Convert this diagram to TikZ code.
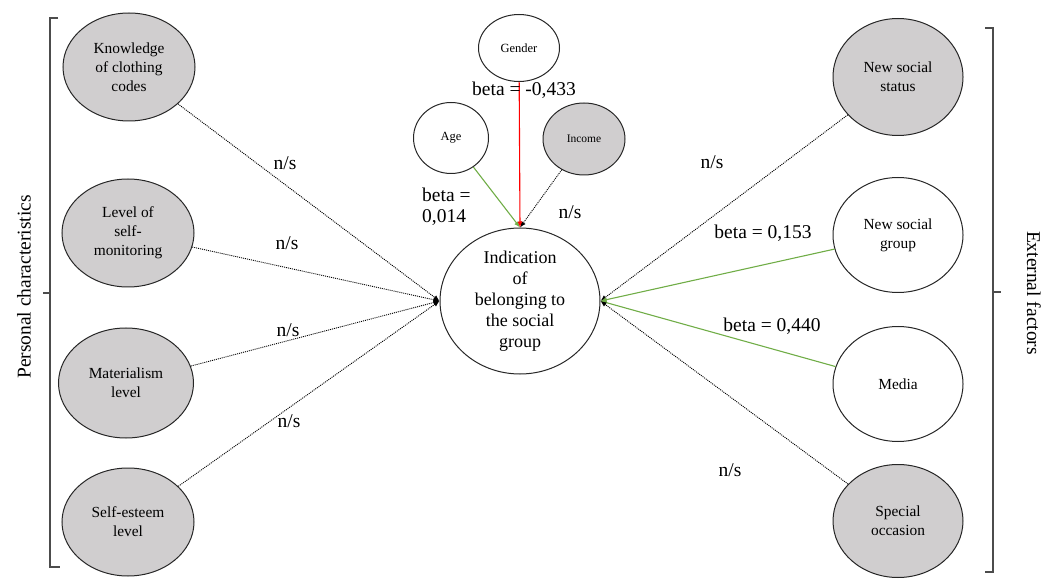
\documentclass[tikz,border=0pt]{standalone}
\usepackage{fontspec}
\setmainfont{Liberation Serif}
\usetikzlibrary{arrows.meta,shapes.geometric}
\definecolor{fillgray}{RGB}{208,206,207}
\definecolor{arrgreen}{RGB}{112,173,71}
\definecolor{arrred}{RGB}{255,0,0}
\begin{document}
\begin{tikzpicture}[x=1pt,y=-1pt,
  var/.style={ellipse,draw=black!85,line width=1pt,inner sep=0pt,align=center,font=\fontsize{15.4}{19}\selectfont},
  grayvar/.style={var,fill=fillgray},
  leftvar/.style={grayvar,minimum width=132pt,minimum height=108pt},
  rightvar/.style={var,minimum width=130pt,minimum height=115pt},
  smallvar/.style={ellipse,draw=black!85,line width=1pt,inner sep=0pt,font=\fontsize{12.5}{15}\selectfont},
  ns/.style={black,line width=0.9pt,dash pattern=on 1pt off 1pt,-{Latex[length=6pt,width=5pt]}},
  sig/.style={arrgreen,line width=1.1pt,-{Latex[length=6pt,width=5pt]}},
  neg/.style={arrred,line width=1.1pt,-{Latex[length=6pt,width=5pt]}},
  lab/.style={font=\fontsize{19.5}{21}\selectfont,inner sep=0pt},
  brk/.style={draw=black!70,line width=1.1pt},
  side/.style={font=\fontsize{19.5}{22}\selectfont,inner sep=0pt}
]
\useasboundingbox (0,0) rectangle (1053,580);

% brackets
\draw[brk] (58,18) -- (50,18) -- (50,567) -- (60,567);
\draw[brk] (50,293) -- (43,293);
\draw[brk] (985,28) -- (993,28) -- (993,572) -- (985,572);
\draw[brk] (993,292) -- (1001,292);
\node[side,rotate=90] (pc) at (24,287) {Personal characteristics};
\node[side,rotate=-90] (ef) at (1034,293) {External factors};

% central node
\node[var,minimum width=160pt,minimum height=146pt,font=\fontsize{18}{21}\selectfont] (ind) at (520,301)
  {Indication\\of\\belonging to\\the social\\group};

% left variables
\node[leftvar] (know) at (129,67) {Knowledge\\of clothing\\codes};
\node[leftvar] (selfmon) at (128,233) {Level of\\self-\\monitoring};
\node[leftvar,minimum width=135pt,minimum height=110pt] (mat) at (126,383) {Materialism\\level};
\node[leftvar] (est) at (128,522) {Self-esteem\\level};

% right variables
\node[rightvar,fill=fillgray,minimum height=117pt] (status) at (898,77) {New social\\status};
\node[rightvar] (group) at (898,235) {New social\\group};
\node[rightvar] (media) at (898,384) {Media};
\node[rightvar,fill=fillgray,minimum height=113pt] (occ) at (898,521) {Special\\occasion};

% top variables
\node[smallvar,minimum width=81pt,minimum height=67pt] (gender) at (519,48) {Gender};
\node[smallvar,minimum width=75pt,minimum height=71pt] (age) at (451,138) {Age};
\node[smallvar,fill=fillgray,minimum width=82pt,minimum height=72pt,font=\fontsize{11.5}{14}\selectfont] (income) at (584,139) {Income};

% connectors
\draw[ns] (know) -- (ind.west);
\draw[ns] (selfmon) -- (ind.west);
\draw[ns] (mat) -- (ind.west);
\draw[ns] (est) -- (ind.west);

\draw[ns] (status) -- (ind.east);
\draw[sig] (group) -- (ind.east);
\draw[sig] (media) -- (ind.east);
\draw[ns] (occ) -- (ind.east);

\draw[sig] (age) -- (ind.north);
\draw[ns] (income) -- (ind.north);
\draw[neg] (gender) -- (ind.north);

% labels
\node[lab] (l1) at (285,163) {n/s};
\node[lab] (l2) at (287,243) {n/s};
\node[lab] (l3) at (288,330) {n/s};
\node[lab] (l4) at (289,421) {n/s};
\node[lab] (r1) at (712,162) {n/s};
\node[lab] (r2) at (763,233) {beta = 0,153};
\node[lab] (r3) at (772,326) {beta = 0,440};
\node[lab] (r4) at (730,470) {n/s};
\node[lab] (tg) at (524,90) {beta = -0,433};
\node[lab,align=left,anchor=west] (ta) at (422,207) {beta =\\0,014};
\node[lab] (ti) at (570,212) {n/s};
\end{tikzpicture}
\end{document}
